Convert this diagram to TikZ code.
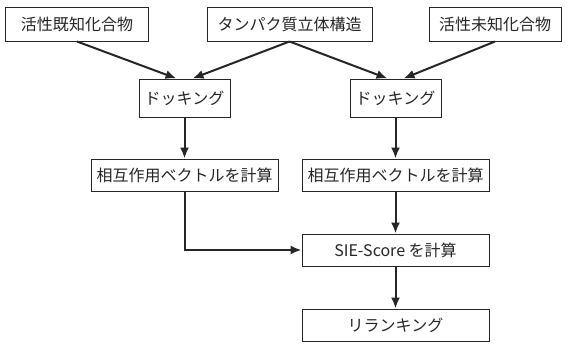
\documentclass[tikz,border=0pt]{standalone}
\usepackage{fontspec}
\setmainfont{Noto Sans CJK JP}
\usetikzlibrary{arrows.meta}
\begin{document}
\begin{tikzpicture}[x=1bp,y=-1bp,
  box/.style={draw=black!85,line width=1bp,inner sep=0pt,font=\fontsize{16bp}{19bp}\selectfont,text=black!85},
  arr/.style={line width=2bp,draw=black!85,-{Latex[length=11bp,width=9bp]}}]
\useasboundingbox[fill=white] (0,0) rectangle (569,343);
\node[box,minimum width=142bp,minimum height=34bp] (b1) at (77,24) {活性既知化合物};
\node[box,minimum width=165bp,minimum height=34bp] (b2) at (289.5,24) {タンパク質立体構造};
\node[box,minimum width=132bp,minimum height=34bp] (b3) at (495,24) {活性未知化合物};
\node[box,minimum width=91bp,minimum height=38bp] (d1) at (184.5,98) {ドッキング};
\node[box,minimum width=91bp,minimum height=38bp] (d2) at (395.5,98) {ドッキング};
\node[box,minimum width=187bp,minimum height=32bp] (i1) at (184.5,175) {相互作用ベクトルを計算};
\node[box,minimum width=187bp,minimum height=32bp] (i2) at (395.5,175) {相互作用ベクトルを計算};
\node[box,minimum width=187bp,minimum height=32bp] (s) at (395.5,250) {SIE-Score を計算};
\node[box,minimum width=187bp,minimum height=32bp] (r) at (395.5,325) {リランキング};
\draw[arr] (b1.south) -- ([xshift=-8bp]d1.north);
\draw[arr] (b2.south) -- ([xshift=8bp]d1.north);
\draw[arr] (b2.south) -- ([xshift=-8bp]d2.north);
\draw[arr] (b3.south) -- ([xshift=8bp]d2.north);
\draw[arr] (d1.south) -- (i1.north);
\draw[arr] (d2.south) -- (i2.north);
\draw[arr] (i1.south) |- (s.west);
\draw[arr] (i2.south) -- (s.north);
\draw[arr] (s.south) -- (r.north);
\end{tikzpicture}
\end{document}
